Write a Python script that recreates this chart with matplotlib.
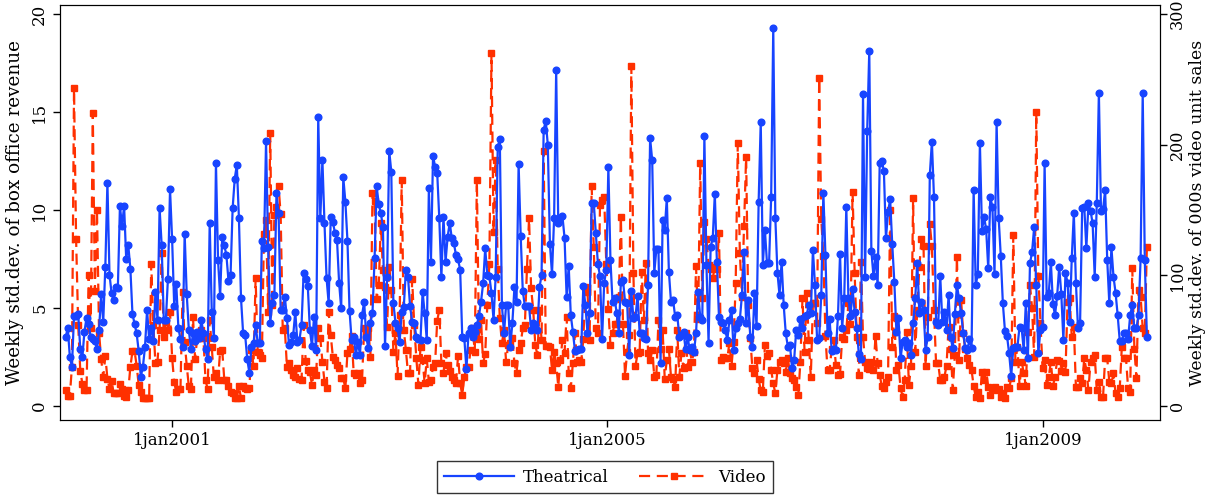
import matplotlib
matplotlib.use("Agg")

import numpy as np
import pandas as pd
import matplotlib.pyplot as plt

plt.rcParams["font.family"] = ["DejaVu Serif"]

# weekly std.dev. of box office revenue (left axis)
theatrical = [
    3.5, 4.0, 2.5, 2.0, 4.6, 4.6, 4.7, 2.9, 2.5, 3.8, 4.5, 4.2, 3.5, 3.4, 3.3, 2.9, 3.9, 5.7, 4.3, 7.1,
    11.4, 6.7, 5.75, 5.4, 6.05, 6.0, 10.2, 9.2, 10.2, 7.5, 8.2, 7.0, 4.7, 4.2, 3.7, 2.8, 1.5, 2.0, 3.0, 4.9, 3.4,
    4.0, 3.3, 5.8, 4.4, 10.1, 8.2, 4.4, 4.4, 6.5, 11.05, 8.5, 5.1, 6.2, 4.0, 3.4, 3.0, 8.8, 5.7, 3.9, 2.9,
    3.7, 3.3, 3.8, 3.45, 4.4, 3.7, 2.9, 2.4, 9.35, 4.8, 3.45, 12.4, 7.45, 5.6, 8.6, 8.2, 7.7, 6.4, 6.7, 10.1,
    11.6, 12.3, 9.6, 5.5,
    3.74, 3.62, 2.38, 1.7, 3.0, 3.23, 4.13, 3.23, 3.2, 8.44, 8.04, 13.5, 8.1, 4.25, 5.24, 5.66, 10.85, 9.83,
    4.9, 4.9, 5.58, 4.47, 3.11, 3.28, 3.6, 4.81, 3.28, 3.37, 4.13, 6.8, 6.46, 6.12, 3.88, 3.06, 4.56, 2.86,
    14.76, 9.57, 12.55, 9.32, 6.51, 5.24,
    9.66, 9.4, 8.84, 8.47, 6.29, 4.98, 11.67, 10.43, 8.44, 4.85, 3.37, 3.54, 2.6, 3.28, 2.6, 4.64, 5.32, 3.54,
    2.94, 4.22, 4.76, 7.53, 11.2, 10.3, 9.83, 9.15, 3.06, 6.6, 13.03, 11.96, 5.27, 4.25, 3.96, 3.28, 4.81,
    5.07, 6.94, 6.6, 5.1, 4.3, 4.25, 3.54, 3.4,
    3.37, 5.83, 4.73, 3.37, 11.1, 7.36, 12.77, 12.2, 11.9, 9.57, 6.56, 9.66, 7.36, 8.64, 9.35, 8.55, 8.3, 7.7,
    7.48, 6.94, 3.54, 3.45, 1.87, 3.7, 3.96, 3.54, 3.79, 4.13, 4.6, 5.32, 6.26, 8.04, 6.68, 6.63, 5.75, 4.39,
    6.6, 13.23, 13.6, 5.15, 3.7, 5.15, 5.15,
    3.03, 4.22, 6.05, 5.32, 12.35, 8.67, 5.87, 5.1, 5.1, 5.1, 3.88, 4.25, 4.13, 3.88, 6.05, 6.68, 14.08, 14.56,
    13.3, 8.27, 6.73, 9.57, 17.14, 9.32, 9.57, 9.69, 8.59, 5.58, 7.14, 4.63, 3.79, 2.82, 2.86, 2.89, 2.89,
    6.12, 5.15, 3.74, 4.73, 10.37, 10.37, 8.84, 7.24,
    6.63, 3.4, 6.29, 6.94, 12.18, 7.45, 5.32, 5.49, 4.73, 3.74, 6.34, 6.43, 5.32, 5.27, 2.6, 5.88, 4.47, 4.56,
    5.61, 3.7, 3.74, 3.45, 3.4, 6.17, 13.66, 12.55, 6.8, 7.99, 7.99, 2.21, 9.49, 8.98, 10.6, 6.85, 5.32, 5.41,
    4.56, 4.64, 3.54, 3.62, 3.79, 2.89, 3.5,
    2.86, 3.03, 2.77, 3.7, 5.83, 4.56, 4.39, 13.78, 7.19, 3.23, 8.13, 8.55, 10.82, 7.36, 4.52, 4.3, 4.22, 3.88,
    3.37, 4.39, 4.9, 2.86, 3.96, 4.22, 4.42, 5.66, 7.87, 4.22, 5.41, 3.5, 3.03, 5.78, 4.08, 10.43, 14.5, 7.19,
    8.98, 7.28, 7.28, 10.68, 19.27, 9.57, 6.8, 5.66,
    7.36, 5.15, 3.7, 3.03, 3.11, 1.92, 2.35, 3.88, 3.62, 4.42, 3.96, 4.59, 4.64, 5.15, 4.73, 7.96, 6.17, 3.37,
    3.45, 5.66, 10.88, 7.7, 3.7, 4.42, 2.82, 2.89, 2.86, 4.59, 7.76, 3.96, 5.49, 10.17, 5.49, 4.59, 5.95, 4.81,
    3.96, 2.65, 2.38, 15.92, 6.6, 14.03, 18.13,
    7.93, 6.63, 7.62, 6.17, 12.41, 12.5, 11.99, 8.55, 9.91, 10.54, 8.27, 6.34, 3.79, 4.47, 2.43, 3.28, 3.37,
    3.03, 3.23, 2.6, 4.22, 5.49, 7.28, 4.76, 5.32, 4.9, 2.86, 3.5, 11.79, 13.49, 10.65, 4.3, 4.13, 6.63, 4.3,
    4.81, 3.88, 5.66, 3.5, 2.94, 4.69, 6.17, 5.49,
    4.73, 3.74, 2.94, 2.86, 3.4, 2.94, 11.02, 6.17, 6.73, 13.43, 8.95, 9.66, 9.01, 7.02, 10.68, 10.14, 6.73,
    14.47, 9.57, 7.65, 5.24, 3.84, 3.57, 2.69, 1.53, 2.94, 3.03, 3.03, 4.05, 3.96, 2.86, 5.24, 2.43, 7.28, 7.87,
    9.12, 6.17, 2.69, 3.88, 4.05, 12.38, 5.58, 5.75,
    7.36, 5.2, 4.64, 5.61, 7.11, 5.71, 3.37, 6.8, 6.29, 4.3, 7.53, 9.83, 6.29, 3.96, 4.25, 10.09, 10.17, 8.04,
    10.34, 9.97, 9.32, 6.6, 10.37, 15.99, 9.97, 10.03, 11.02, 7.45, 5.24, 8.1, 6.6, 5.78, 4.64, 3.33, 3.33,
    3.7, 3.7, 3.4, 4.64, 5.15, 3.96, 3.96, 4.64, 7.53, 15.95, 7.45, 3.54,
]

# weekly std.dev. of 000s video unit sales (right axis)
video = [
    12, 8, 8, 30, 243, 128, 62, 27, 17, 12, 12, 100, 60, 224, 88, 150, 56, 36, 22, 38, 21, 13, 19,
    10, 10, 10, 17, 13, 8, 7, 12, 30, 42, 42, 31, 16, 11, 6, 6, 6, 6,
    109, 62, 33, 34, 58, 117, 53, 64, 58, 72, 37, 18, 11, 13, 13, 87, 49, 31, 15, 13, 68, 36, 52, 52, 58, 52,
    20, 13, 66, 45, 22, 25, 20, 42, 43, 20, 20, 15, 11, 10, 6, 6, 15,
    6, 15, 13.5, 12.8, 13.5, 43, 30.6, 97.7, 41.6, 39, 36.5, 132, 142, 72, 209, 77, 146, 152.6, 168, 147,
    58, 59.4, 30, 32.7, 27.6, 23.7, 22.4, 28.8, 21, 20, 62, 34.7, 27.6, 26.3, 16, 27.6, 23.7, 59.4, 51.8, 34,
    18.6, 13.5, 72,
    54, 37.8, 35.2, 31.4, 28.8, 21.2, 21.2, 13.5, 40.8, 44, 53.6, 25, 23.7, 25, 17.3, 20, 59.4, 55.6, 59.4,
    37.8, 163, 157, 81.6, 92.6, 140, 104, 91.3, 60.7, 106.6, 88.8, 41.6, 56, 23, 69.6, 173, 58, 42.9, 25, 25,
    97, 62, 36.5, 16,
    45.4, 35.2, 17.3, 36.5, 18.6, 20, 30, 32.7, 65.3, 73.5, 32.7, 25, 40.8, 31.4, 27, 22.4, 20, 17.9, 38.3,
    17.3, 8.4, 22.4, 30, 30, 42.9, 59.4, 41.6, 173, 51, 65.8, 33, 40, 77, 109, 270, 133, 188, 105, 67, 48,
    58, 34, 46.7,
    48, 51.8, 32.7, 25, 42.9, 48, 59.4, 62, 105, 143.6, 90, 73.5, 46.7, 39, 73.5, 50.5, 195.4, 46, 46, 45.4,
    27.6, 41.6, 32.7, 14.8, 35.2, 50.5, 40.8, 68.4, 25, 13.5, 33, 55.6, 34, 35.2, 34, 51, 91.3, 87.5, 50.5,
    168, 122, 59.4, 55.6,
    154, 158, 160, 109, 74, 46.7, 55.6, 63, 63, 83.7, 144.4, 63, 23, 41.6, 54.3, 260, 101.5, 30.9, 40.3,
    41.6, 102.8, 65.8, 109.7, 40.8, 35.2, 42.9, 22.4, 23.7, 65.8, 44, 58, 21, 35.2, 43.4, 22.4, 20.4, 14.8,
    58, 22.4, 40.3, 28.8, 55.6, 30,
    42.9, 34, 41.6, 107, 66.3, 186, 82.4, 141, 127.6, 108, 105, 97.7, 106.6, 104.6, 132.7, 35.2, 37.8, 36.5,
    36.5, 48.5, 30.6, 49.2, 93.9, 201, 116.8, 83.7, 137.8, 190.8, 77.3, 51.8, 28.8, 25, 35.2, 20.4, 12.2, 11,
    46.7, 38.3, 40.3, 27.6, 17.3, 9.7, 27.6, 34,
    35.2, 32.7, 26.3, 36.5, 25, 21.2, 20, 14.8, 8.4, 34, 82.4, 41.6, 86.7, 50.5, 22.4, 78.6, 79, 63.3, 250.8,
    142.9, 114.8, 53.6, 27.6, 27.6, 44, 50.5, 31.4, 23.7, 24.5, 52.6, 51, 58, 78.6, 62.8, 164, 101.5, 53,
    23.7, 110.5, 53, 34, 28.8, 28,
    34, 27.6, 53.6, 32.7, 23.7, 15.3, 13.5, 18.6, 22.4, 150, 45.4, 68.9, 27.6, 31.4, 13.5, 7.1, 20, 56.9, 16,
    30.6, 159, 41.6, 73.5, 106.6, 127.6, 122.4, 30.6, 68.4, 139.3, 122.4, 73.5, 32.7, 32.7, 20, 20, 22.4,
    30.6, 60.7, 44, 12.2, 39, 114.3, 35.2,
    81, 55.6, 43.4, 36.5, 31.4, 27.6, 15.3, 7.1, 11, 5.9, 26.3, 20, 26.3, 14.8, 8.4, 13.5, 14.8, 12.2, 12.8,
    7.1, 10.2, 5.9, 14.8, 13.5, 21.2, 130.9, 34, 45.4, 15.3, 34, 25.5, 15.3, 56.9, 92.6, 74.7, 37.2, 225,
    99.5, 63.8, 28.8, 35.2, 16, 22.4,
    34, 15.3, 22.4, 35.2, 34.7, 27, 32.7, 26.3, 79.8, 82.4, 53, 60.7, 14.8, 14.8, 21.2, 17.3, 36.5, 27.6,
    12.2, 34, 36.5, 39, 12.2, 18.6, 7.1, 7.1, 36.5, 36.5, 18.6, 17.3, 25, 9.7, 7.1, 13.5, 45.4, 36.5, 36.5,
    13.5, 11, 105.4, 44, 21.2, 88.8, 83.7, 59.4, 55.6, 122,
]

weeks = pd.date_range("2000-01-11", periods=max(len(theatrical), len(video)), freq="7D")
tick_dates = pd.to_datetime(["2001-01-01", "2005-01-01", "2009-01-01"])
tick_labels = ["1jan2001", "1jan2005", "1jan2009"]

blue = "#1744ff"
red = "#ff3000"

fig = plt.figure(figsize=(12.06, 4.96), dpi=100)
ax = fig.add_axes([60 / 1206, 76 / 496, 1100 / 1206, 415 / 496])
ax2 = ax.twinx()

(l1,) = ax.plot(weeks[: len(theatrical)], theatrical, color=blue, lw=1.6,
                marker="o", ms=4.8, label="Theatrical", zorder=3)
(l2,) = ax2.plot(weeks[: len(video)], video, color=red, lw=1.6, ls=(0, (5, 3)),
                 marker="s", ms=4.6, label="Video", zorder=2)
ax.set_zorder(ax2.get_zorder() + 1)
ax.patch.set_visible(False)

ax.set_xlim(pd.Timestamp("1999-12-23"), pd.Timestamp("2010-01-28"))
ax.set_ylim(-0.714, 20.46)
ax2.set_ylim(-0.714 * 15, 20.46 * 15)

ax.set_yticks([0, 5, 10, 15, 20])
ax2.set_yticks([0, 100, 200, 300])
ax.set_xticks(tick_dates)
ax.set_xticklabels(tick_labels)

ax.tick_params(axis="both", labelsize=12, length=5, width=1, direction="out")
ax2.tick_params(axis="y", labelsize=11.5, length=5, width=1, direction="out", pad=1.5)
for lab in ax.get_yticklabels():
    lab.set_rotation(90)
    lab.set_va("center")
for lab in ax2.get_yticklabels():
    lab.set_rotation(90)
    lab.set_va("center")

ax.set_ylabel("Weekly std.dev. of box office revenue", fontsize=13.2)
ax2.set_ylabel("Weekly std.dev. of 000s video unit sales", fontsize=12.4)
ax.yaxis.set_label_coords((15 - 60) / 1100, 0.5)
ax2.yaxis.set_label_coords((1197 - 60) / 1100, 0.5)
ax.yaxis.label.set_va("center")
ax2.yaxis.label.set_va("center")

fig.legend(handles=[l1, l2], loc="center", bbox_to_anchor=(605 / 1206, 1 - 477 / 496),
           ncol=2, fontsize=12, frameon=True, fancybox=False, edgecolor="black",
           handlelength=4.2, handletextpad=0.55, columnspacing=1.8, borderpad=0.45)

fig.savefig("out.png", dpi=100, facecolor="white")
